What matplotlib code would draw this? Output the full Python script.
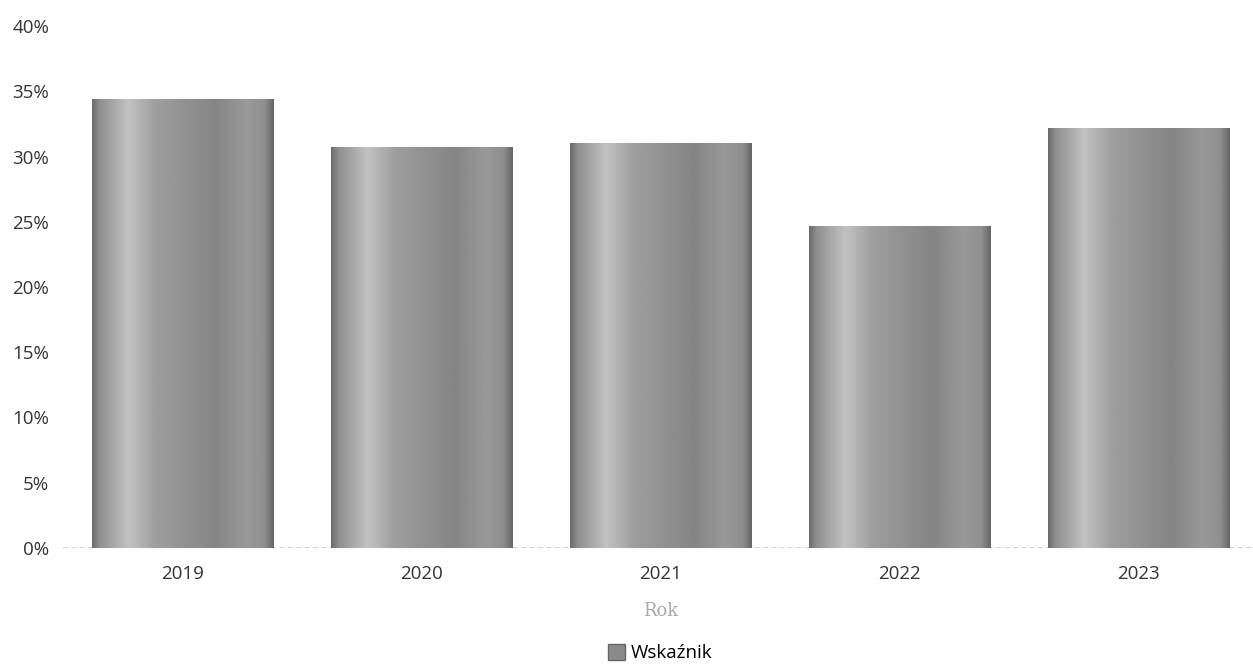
#!/usr/bin/env python3
import numpy as np
from matplotlib import pyplot as plt
from matplotlib.ticker import PercentFormatter
from matplotlib.patches import Patch

years = ['2019', '2020', '2021', '2022', '2023']
wskaznik = [34.4, 30.7, 31.0, 24.7, 32.2]

plt.rcParams['font.family'] = ['Open Sans', 'DejaVu Sans']

fig = plt.figure(figsize=(12.53, 6.68), dpi=100)
ax = fig.add_axes([63 / 1253, 1 - 548 / 668, 1195 / 1253, 522 / 668])

x = np.arange(len(years))
bars = ax.bar(x, wskaznik, width=0.76, color='#9a9a9a', edgecolor='none')

# cylinder-like horizontal shading
stops = [0.0, 0.04, 0.2, 0.35, 0.55, 0.68, 0.85, 0.95, 1.0]
levels = [0.42, 0.56, 0.76, 0.62, 0.56, 0.52, 0.60, 0.56, 0.40]
grad = np.interp(np.linspace(0, 1, 256), stops, levels).reshape(1, -1)
for b in bars:
    x0, y0 = b.get_x(), b.get_y()
    w, h = b.get_width(), b.get_height()
    im = ax.imshow(grad, cmap='gray', vmin=0, vmax=1, aspect='auto',
                   extent=[x0, x0 + w, y0, y0 + h], zorder=2)
    im.set_clip_path(b)

ax.set_xlim(-0.5, 4.5)
ax.set_ylim(0, 40)
ax.set_yticks(np.arange(0, 41, 5))
ax.yaxis.set_major_formatter(PercentFormatter(decimals=0))
ax.set_xticks(x)
ax.set_xticklabels(years)
ax.tick_params(length=0, labelsize=13.5, colors='#333333')
ax.tick_params(axis='x', pad=12)
ax.tick_params(axis='y', pad=10)
for s in ax.spines.values():
    s.set_visible(False)
ax.axhline(0, color='#c8c8c8', lw=1.2, ls=(0, (3, 2)), zorder=1)

ax.set_xlabel('Rok', fontsize=13, color='#aaaaaa', family='DejaVu Serif', labelpad=14)

ax.legend(handles=[Patch(facecolor='#8a8a8a', edgecolor='#666666', label='Wskaźnik')],
          loc='upper center', bbox_to_anchor=(0.5, -0.152), frameon=False,
          fontsize=13.5, handlelength=0.9, handleheight=0.9, handletextpad=0.3)

plt.savefig('out.png', dpi=100)
